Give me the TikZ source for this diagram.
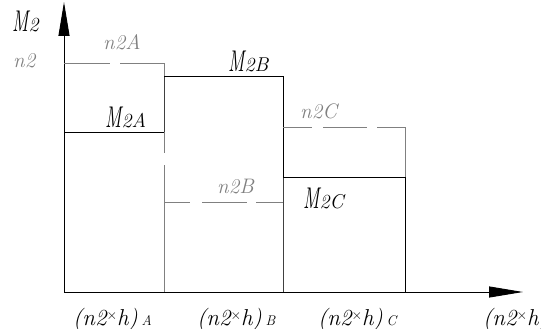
\documentclass[tikz,border=0pt]{standalone}
\usepackage{fontspec}
\usetikzlibrary{arrows.meta}
\newcommand{\bigM}{\scalebox{0.62}[1]{\fontsize{30}{30}\selectfont\itshape M}}
\newcommand{\sm}[1]{{\fontsize{20}{20}\selectfont\itshape #1}}
\newcommand{\smn}[1]{{\fontsize{21}{21}\selectfont\itshape #1}}
\newcommand{\cross}{\raisebox{0.55ex}{\scalebox{0.55}{$\times$}}}
\newcommand{\blab}[1]{{\fontsize{23}{23}\selectfont\itshape(n2\cross h)\,{\fontsize{14}{14}\selectfont #1}}}
\definecolor{lg}{gray}{0.5}
\definecolor{lk}{gray}{0.25}
\begin{document}
\begin{tikzpicture}[x=1pt,y=-1pt,
  solid/.style={draw=black,line width=0.8pt},
  thin/.style={draw=lk,line width=0.8pt},
  dsh/.style={draw=lg,line width=0.8pt},
  lbl/.style={inner sep=0pt,anchor=base west,text=lg},
  mlbl/.style={inner sep=0pt,anchor=base west,text=black},
  axis/.style={draw=black,line width=0.9pt,-{Triangle[length=34pt,width=11pt]}}]
\useasboundingbox (0,0) rectangle (541,329);
% axes
\coordinate (O) at (64,292);
\coordinate (Ytip) at (64,2);
\coordinate (Xtip) at (523,292);
\draw[axis] (O) -- (Ytip);
\draw[axis] (O) -- (Xtip);
% block A
\draw[dsh] (64,63) -- (110,63);
\draw[dsh] (120,63) -- (164,63) -- (164,153);
\draw[dsh] (164,165) -- (164,292);
\draw[thin] (164,76) -- (164,132);
\draw[solid] (64,132) -- (164,132);
% block B
\draw[solid] (164,76) -- (283,76) -- (283,177);
\draw[thin] (283,177) -- (283,292);
\draw[dsh] (164,202) -- (190,202);
\draw[dsh] (202,202) -- (247,202);
\draw[dsh] (256,202) -- (283,202);
% block C
\draw[dsh] (283,127) -- (312,127);
\draw[dsh] (323,127) -- (367,127);
\draw[dsh] (377,127) -- (405,127) -- (405,177);
\draw[solid] (283,177) -- (405,177) -- (405,292);
% labels
\node[mlbl] (lM2) at (12,32) {\bigM\sm{2}};
\node[lbl] (ln2) at (13,67) {\smn{n2}};
\node[lbl] (ln2A) at (103,50) {\smn{n2A}};
\node[mlbl] (lM2A) at (105,128) {\bigM\sm{2A}};
\node[mlbl] (lM2B) at (228,72) {\bigM\sm{2B}};
\node[lbl] (ln2C) at (300,118) {\smn{n2C}};
\node[lbl] (ln2B) at (217,193) {\smn{n2B}};
\node[mlbl] (lM2C) at (303,208) {\bigM\sm{2C}};
\node[mlbl] (bA) at (73,325) {\blab{A}};
\node[mlbl] (bB) at (197,325) {\blab{B}};
\node[mlbl] (bC) at (318,325) {\blab{C}};
\node[mlbl] (bX) at (483,325) {\blab{}};
\end{tikzpicture}
\end{document}
